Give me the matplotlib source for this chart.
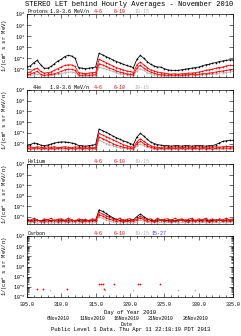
import numpy as np
import matplotlib
matplotlib.use("Agg")
import matplotlib.pyplot as plt
from matplotlib.ticker import FixedLocator, NullFormatter

plt.rcParams["font.family"] = ["Liberation Mono", "DejaVu Sans Mono"]
plt.rcParams["mathtext.fontset"] = "custom"
plt.rcParams["mathtext.rm"] = "Liberation Mono"
plt.rcParams["axes.linewidth"] = 0.5

# --- data (log10 of intensity, half-day steps, DOY 305.0 .. 335.0) ---
doy = np.arange(305.0, 335.01, 0.5)

p_18_36 = [-1.8, -1.7, -1.4, -1.2, -1.6, -1.9, -1.9, -1.75, -1.5, -1.25, -1.1, -0.85, -0.75, -0.8, -1.0,
           -1.85, -1.9, -1.95, -1.9, -1.85, -1.8, -0.55, -0.7, -0.85, -1.0, -1.15, -1.3, -1.4, -1.55, -1.65,
           -1.75, -1.85, -1.1, -0.75, -1.0, -1.3, -1.55, -1.7, -1.8, -1.8, -1.95, -2.05, -2.1, -2.1, -2.1,
           -2.05, -2.0, -1.95, -1.9, -1.85, -1.8, -1.7, -1.6, -1.55, -1.45, -1.4, -1.3, -1.25, -1.2, -1.15, -1.15]
p_4_6 = [-2.3, -2.25, -2.0, -1.9, -2.2, -2.35, -2.3, -2.25, -2.1, -1.95, -1.8, -1.65, -1.6, -1.6, -1.75,
         -2.3, -2.35, -2.4, -2.35, -2.3, -2.3, -1.1, -1.25, -1.4, -1.55, -1.7, -1.85, -1.95, -2.05, -2.15,
         -2.2, -2.3, -1.6, -1.35, -1.6, -1.85, -2.05, -2.15, -2.25, -2.3, -2.35, -2.4, -2.45, -2.4, -2.45,
         -2.4, -2.4, -2.35, -2.35, -2.3, -2.25, -2.2, -2.1, -2.05, -2.0, -1.9, -1.85, -1.8, -1.7, -1.65, -1.65]
p_6_10 = [-2.5, -2.45, -2.3, -2.2, -2.45, -2.55, -2.5, -2.45, -2.4, -2.3, -2.2, -2.05, -2.0, -2.0, -2.1,
          -2.5, -2.55, -2.5, -2.55, -2.5, -2.5, -1.5, -1.6, -1.75, -1.9, -2.0, -2.15, -2.25, -2.3, -2.4,
          -2.45, -2.5, -1.9, -1.65, -1.9, -2.1, -2.25, -2.35, -2.45, -2.5, -2.5, -2.55, -2.5, -2.55, -2.5,
          -2.55, -2.5, -2.5, -2.45, -2.5, -2.45, -2.4, -2.4, -2.35, -2.3, -2.25, -2.2, -2.15, -2.1, -2.05, -2.0]
p_10_15 = [-2.6, -2.55, -2.5, -2.45, -2.55, -2.6, -2.6, -2.55, -2.5, -2.45, -2.4, -2.3, -2.25, -2.25, -2.3,
           -2.6, -2.6, -2.65, -2.6, -2.6, -2.6, -1.8, -1.9, -2.0, -2.1, -2.2, -2.3, -2.4, -2.45, -2.5,
           -2.55, -2.6, -2.15, -1.95, -2.1, -2.3, -2.4, -2.5, -2.55, -2.6, -2.6, -2.65, -2.6, -2.65, -2.6,
           -2.65, -2.6, -2.6, -2.55, -2.6, -2.55, -2.5, -2.5, -2.45, -2.45, -2.4, -2.35, -2.3, -2.3, -2.25, -2.2]

he4_18_36 = [-2.2, -2.1, -1.95, -2.0, -2.15, -2.2, -2.15, -2.05, -1.95, -1.9, -1.85, -1.85, -1.9, -1.95, -2.0,
             -2.2, -2.2, -2.25, -2.2, -2.15, -2.1, -0.65, -0.8, -0.95, -1.1, -1.3, -1.45, -1.6, -1.75, -1.85,
             -2.0, -2.1, -1.4, -1.05, -1.3, -1.6, -1.85, -2.0, -2.1, -2.15, -2.2, -2.2, -2.25, -2.2, -2.2,
             -2.25, -2.2, -2.2, -2.25, -2.2, -2.2, -2.2, -2.25, -2.2, -2.2, -2.1, -1.95, -1.8, -1.75, -1.7, -1.7]
he4_4_6 = [-2.35, -2.3, -2.4, -2.3, -2.35, -2.4, -2.3, -2.35, -2.3, -2.4, -2.35, -2.3, -2.35, -2.4, -2.3,
           -2.35, -2.4, -2.3, -2.35, -2.4, -2.35, -1.05, -1.2, -1.35, -1.5, -1.65, -1.8, -1.95, -2.1, -2.2,
           -2.3, -2.35, -1.85, -1.55, -1.8, -2.0, -2.2, -2.3, -2.35, -2.4, -2.3, -2.35, -2.4, -2.3, -2.35,
           -2.4, -2.35, -2.3, -2.4, -2.35, -2.3, -2.35, -2.4, -2.3, -2.35, -2.3, -2.35, -2.3, -2.25, -2.3, -2.25]
he4_6_10 = [-2.45, -2.5, -2.45, -2.4, -2.5, -2.45, -2.5, -2.45, -2.5, -2.45, -2.4, -2.45, -2.5, -2.45, -2.5,
            -2.45, -2.5, -2.45, -2.5, -2.45, -2.5, -1.4, -1.55, -1.7, -1.85, -2.0, -2.15, -2.25, -2.35, -2.4,
            -2.45, -2.5, -2.05, -1.8, -2.0, -2.2, -2.35, -2.45, -2.5, -2.45, -2.5, -2.45, -2.5, -2.45, -2.5,
            -2.45, -2.5, -2.45, -2.5, -2.45, -2.5, -2.45, -2.5, -2.45, -2.5, -2.45, -2.4, -2.45, -2.4, -2.45, -2.4]
he4_10_15 = [-2.55, -2.6, -2.55, -2.55, -2.6, -2.55, -2.6, -2.55, -2.6, -2.55, -2.55, -2.6, -2.55, -2.6, -2.55,
             -2.6, -2.55, -2.6, -2.55, -2.6, -2.55, -1.7, -1.85, -2.0, -2.1, -2.2, -2.3, -2.4, -2.45, -2.5,
             -2.55, -2.6, -2.25, -2.05, -2.2, -2.35, -2.45, -2.55, -2.6, -2.55, -2.6, -2.55, -2.6, -2.55, -2.6,
             -2.55, -2.6, -2.55, -2.6, -2.55, -2.6, -2.55, -2.6, -2.55, -2.6, -2.55, -2.6, -2.55, -2.5, -2.55, -2.5]

hel_18_36 = [-2.35, -2.4, -2.3, -2.35, -2.4, -2.35, -2.3, -2.4, -2.35, -2.3, -2.35, -2.4, -2.3, -2.35, -2.4,
             -2.35, -2.3, -2.4, -2.35, -2.4, -2.35, -1.35, -1.5, -1.7, -1.9, -2.1, -2.25, -2.35, -2.3, -2.4,
             -2.35, -2.3, -2.0, -1.75, -2.0, -2.2, -2.35, -2.4, -2.3, -2.35, -2.4, -2.35, -2.3, -2.4, -2.35,
             -2.3, -2.35, -2.4, -2.3, -2.35, -2.4, -2.35, -2.3, -2.4, -2.35, -2.3, -2.35, -2.4, -2.3, -2.35, -2.3]
hel_4_6 = [-2.2, -2.35, -2.15, -2.3, -2.45, -2.2, -2.3, -2.15, -2.4, -2.25, -2.2, -2.35, -2.15, -2.3, -2.45,
           -2.2, -2.35, -2.25, -2.4, -2.2, -2.3, -1.6, -1.75, -1.9, -2.05, -2.2, -2.3, -2.15, -2.4, -2.25,
           -2.2, -2.35, -2.2, -1.95, -2.15, -2.3, -2.2, -2.4, -2.15, -2.3, -2.25, -2.2, -2.4, -2.15, -2.3,
           -2.2, -2.35, -2.25, -2.15, -2.4, -2.2, -2.3, -2.15, -2.35, -2.2, -2.45, -2.2, -2.3, -2.15, -2.3, -2.2]
hel_6_10 = [-2.45, -2.4, -2.5, -2.35, -2.45, -2.5, -2.4, -2.45, -2.35, -2.5, -2.4, -2.45, -2.5, -2.4, -2.35,
            -2.45, -2.5, -2.4, -2.45, -2.35, -2.45, -1.8, -1.95, -2.1, -2.25, -2.35, -2.45, -2.4, -2.5, -2.45,
            -2.4, -2.45, -2.35, -2.1, -2.3, -2.45, -2.4, -2.5, -2.45, -2.35, -2.45, -2.4, -2.5, -2.45, -2.4,
            -2.35, -2.45, -2.5, -2.4, -2.45, -2.35, -2.45, -2.4, -2.5, -2.45, -2.4, -2.35, -2.45, -2.4, -2.45, -2.4]
hel_10_15 = [-2.55, -2.6, -2.55, -2.6, -2.55, -2.6, -2.55, -2.6, -2.55, -2.6, -2.55, -2.6, -2.55, -2.6, -2.55,
             -2.6, -2.55, -2.6, -2.55, -2.6, -2.55, -2.0, -2.15, -2.3, -2.4, -2.5, -2.55, -2.6, -2.55, -2.6,
             -2.55, -2.6, -2.5, -2.3, -2.45, -2.55, -2.6, -2.55, -2.6, -2.55, -2.6, -2.55, -2.6, -2.55, -2.6,
             -2.55, -2.6, -2.55, -2.6, -2.55, -2.6, -2.55, -2.6, -2.55, -2.6, -2.55, -2.6, -2.55, -2.6, -2.55, -2.6]

# carbon: sparse points only
c_red_doy = [306.4, 307.3, 310.8, 315.5, 315.8, 316.0, 316.2, 317.6, 321.1, 321.4, 324.3]
c_red_val = [-2.2, -2.2, -2.2, -1.75, -1.75, -1.75, -2.2, -1.75, -1.75, -1.75, -1.75]
c_grey_doy = [308.4, 316.4, 320.4, 327.0, 329.5]
c_grey_val = [-2.3, -2.3, -2.3, -2.3, -2.3]

date_doy = [310, 315, 320, 325, 330]
date_lbl = ["6Nov2010", "11Nov2010", "16Nov2010", "21Nov2010", "26Nov2010"]

RED = "#ff0000"
GREY = "#b4b4b4"
FS = 3.6

fig = plt.figure(figsize=(2.41, 3.36), dpi=100)
left, width = 27 / 241, 206 / 241
rows = [(14, 77), (90, 151), (164, 224), (236, 297)]   # pixel top/bottom of each panel
axes = [fig.add_axes([left, 1 - b / 336, width, (b - t) / 336]) for t, b in rows]


def style_axis(ax, decades, last):
    ax.set_xlim(305, 335)
    ax.set_yscale("log")
    ax.set_ylim(10.0 ** decades[-1] if last else 10 ** -2.7, 10.0 ** decades[0])
    ax.xaxis.set_major_locator(FixedLocator(np.arange(305, 336, 5)))
    ax.xaxis.set_minor_locator(FixedLocator(np.arange(305, 336, 1)))
    ax.yaxis.set_major_locator(FixedLocator([10.0 ** d for d in decades]))
    ax.set_yticklabels([f"$10^{{{d}}}$" for d in decades], fontsize=FS)
    if last:
        ax.yaxis.set_minor_locator(FixedLocator([m * 10.0 ** d for d in range(-3, 3) for m in range(2, 10)]))
    else:
        ax.yaxis.set_minor_locator(FixedLocator([]))
    ax.yaxis.set_minor_formatter(NullFormatter())
    ax.tick_params(which="both", direction="in", top=True, right=True, width=0.4, pad=1.5)
    ax.tick_params(which="major", length=3)
    ax.tick_params(which="minor", length=1.5)
    if last:
        ax.set_xticklabels([f"{v:.1f}" for v in np.arange(305, 336, 5)], fontsize=FS)
        ax.tick_params(axis="x", pad=3.5)
    else:
        ax.set_xticklabels([])


def draw(ax, series):
    for vals, col in series:
        ax.plot(doy, 10.0 ** np.array(vals), color=col, lw=0.6, marker="+", ms=1.6, mew=0.4)


def header(ax, name, name_x, energy, chans):
    y = 1.005
    ax.text(name_x, y, name, transform=ax.get_xaxis_transform(), fontsize=FS, va="bottom", ha="left")
    if energy:
        ax.text(308.35, y, energy, transform=ax.get_xaxis_transform(), fontsize=FS, va="bottom", ha="left")
    for lbl, x, col in chans:
        ax.text(x, y, lbl, transform=ax.get_xaxis_transform(), fontsize=FS, va="bottom", ha="center", color=col)


chans = [("4-6", 315.4, RED), ("6-10", 318.5, RED), ("10-15", 321.7, GREY)]
upper = [3, 2, 1, 0, -1, -2]

ax = axes[0]
style_axis(ax, upper, False)
draw(ax, [(p_18_36, "black"), (p_10_15, GREY), (p_6_10, RED), (p_4_6, RED)])
header(ax, "Protons", 305.15, "1.8-3.6 MeV/n", chans)
ax.set_ylabel("1/(cm$^2$ s sr MeV)", fontsize=4, labelpad=2)

ax = axes[1]
style_axis(ax, upper, False)
draw(ax, [(he4_18_36, "black"), (he4_10_15, GREY), (he4_6_10, RED), (he4_4_6, RED)])
header(ax, "4He", 305.9, "1.8-3.6 MeV/n", chans)
ax.set_ylabel("1/(cm$^2$ s sr MeV/n)", fontsize=4, labelpad=2)

ax = axes[2]
style_axis(ax, upper, False)
draw(ax, [(hel_18_36, "black"), (hel_10_15, GREY), (hel_6_10, RED), (hel_4_6, RED)])
header(ax, "Helium", 305.15, None, chans)
ax.set_ylabel("1/(cm$^2$ s sr MeV/n)", fontsize=4, labelpad=2)

ax = axes[3]
style_axis(ax, [3, 2, 1, 0, -1, -2, -3], True)
ax.plot(c_red_doy, 10.0 ** np.array(c_red_val), ls="none", marker="+", ms=1.8, mew=0.5, color=RED)
ax.plot(c_grey_doy, 10.0 ** np.array(c_grey_val), ls="none", marker="+", ms=1.6, mew=0.4, color=GREY)
header(ax, "Carbon", 305.15, None, chans + [("15-27", 324.2, "#3030ff")])
ax.set_ylabel("1/(cm$^2$ s sr MeV/n)", fontsize=4, labelpad=2)
ax.set_xlabel("Day of Year 2010", fontsize=4, labelpad=2)

fig.text(0.535, 1 - 5 / 336, "STEREO LET behind Hourly Averages - November 2010",
         fontsize=5.1, ha="center", va="center")

# date axis below the DOY axis
for d, lbl in zip(date_doy, date_lbl):
    xf = left + width * (d - 0.5 - 305) / 30
    fig.text(xf, 1 - 319 / 336, lbl, fontsize=3.4, ha="center", va="center")
fig.text(left + width * (319.5 - 305) / 30, 1 - 324 / 336, "Date", fontsize=3.6, ha="center", va="center")
fig.text(0.54, 1 - 330 / 336, "Public Level 1 Data. Thu Apr 11 22:18:19 PDT 2013",
         fontsize=4, ha="center", va="center")

fig.savefig("out.png", dpi=100)
